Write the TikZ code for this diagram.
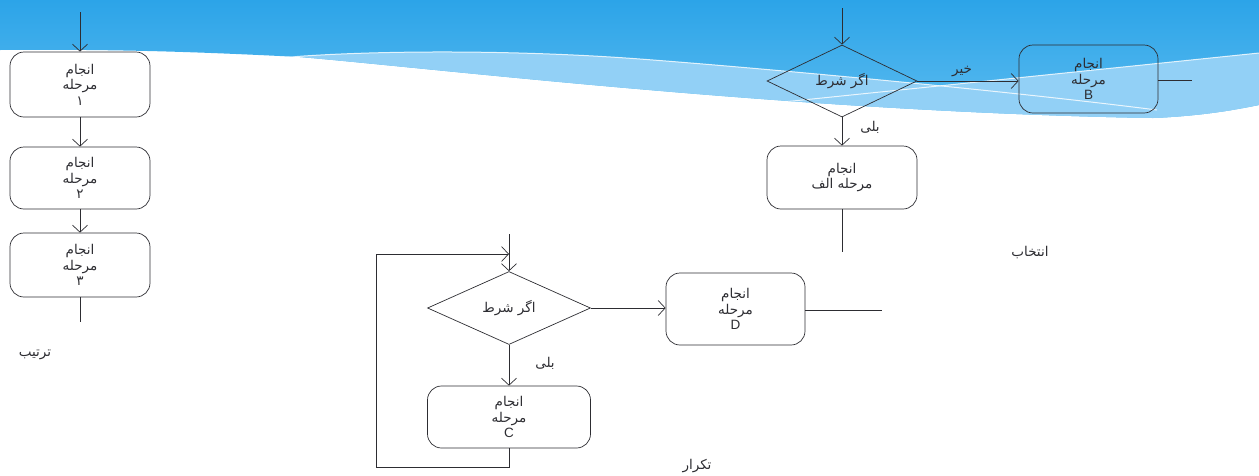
\documentclass[tikz,border=0pt]{standalone}
\usepackage{fontspec}
\setmainfont{Liberation Sans}
\newfontfamily\farsi[Script=Arabic]{DejaVu Sans}
\TeXXeTstate=1
\usetikzlibrary{arrows.meta,shapes.geometric}
\newcommand{\fa}[1]{{\farsi\beginR #1\endR}}
\definecolor{bgtop}{RGB}{44,164,232}
\definecolor{bgbot}{RGB}{92,188,240}
\definecolor{bglight}{RGB}{146,208,246}
\definecolor{ink}{RGB}{45,45,50}
\tikzstyle{edge}=[
	-{Straight Barb[length=7pt,width=15pt]},
	draw=ink,
	line width=0.7pt
]
\tikzstyle{line}=[
	-,
	draw=ink,
	line width=0.7pt
]
\tikzstyle{stepbox}=[
	rectangle,
	rounded corners=14pt,
	draw=ink,
	line width=0.7pt,
	align=center,
	inner sep=0pt,
	text=ink,
	font=\fontsize{13.5}{15.5}\selectfont
]
\tikzstyle{cond}=[
	diamond,
	draw=ink,
	line width=0.7pt,
	inner sep=0pt,
	text=ink,
	font=\fontsize{13.5}{15.5}\selectfont
]
\tikzstyle{lbl}=[
	inner sep=0pt,
	text=ink,
	font=\fontsize{13.5}{15.5}\selectfont
]

\begin{document}
\begin{tikzpicture}[x=1pt, y=-1pt]
\useasboundingbox (0,0) rectangle (1259,475);

% background wave
\begin{scope}
\clip (0,0) -- (1259,0) -- (1259,105) .. controls (1235,110) and (1200,116) .. (1153,118)
    .. controls (800,112) and (450,70) .. (300,57) .. controls (200,52) and (120,49) .. (0,50) -- cycle;
\shade[top color=bgtop, bottom color=bgbot] (0,0) rectangle (1259,125);
\fill[bglight] (290,57) .. controls (380,50) and (520,50) .. (640,59)
    .. controls (760,68) and (1000,90) .. (1157,110) -- (1259,110) -- (1259,140) -- (290,140) -- cycle;
\fill[bglight] (754,105) -- (1259,53) -- (1259,140) -- (754,140) -- cycle;
\draw[white, line width=1pt, opacity=0.8] (290,57) .. controls (380,50) and (520,50) .. (640,59)
    .. controls (760,68) and (1000,90) .. (1157,110);
\draw[white, line width=1pt, opacity=0.8] (754,105) -- (1259,53);
\end{scope}

% sequence
\coordinate (in1) at (80,12);
\coordinate (out1) at (80,322);
\foreach \n/\y/\h/\d in {1/84.5/65/۱, 2/178/62/۲, 3/265/64/۳}{
    \node[stepbox, minimum width=140pt, minimum height=\h pt] at (80,\y) (s\n)
        {\fa{انجام}\\\fa{مرحله}\\\fa{\d}};
}
\draw[edge] (in1) -- (s1);
\draw[edge] (s1) -- (s2);
\draw[edge] (s2) -- (s3);
\draw[line] (s3) -- (out1);
\node[lbl] at (35,355) (seq) {\fa{ترتیب}};

% selection
\coordinate (in2) at (842,8);
\node[cond, minimum width=150pt, minimum height=72pt] at (842,81) (d1) {\fa{اگر شرط}};
\node[stepbox, minimum width=139pt, minimum height=68pt] at (1088.5,79) (sB)
    {\fa{انجام}\\\fa{مرحله}\\B};
\node[stepbox, minimum width=150pt, minimum height=63pt] at (842,177.5) (sA)
    {\fa{انجام}\\\fa{مرحله الف}};
\coordinate (outB) at (1192,80);
\coordinate (outA) at (842,252);
\draw[edge] (in2) -- (d1.north);
\draw[edge] (d1.east) -- (d1.east -| sB.west);
\draw[line] (sB.east |- outB) -- (outB);
\draw[edge] (d1.south) -- (sA.north);
\draw[line] (sA.south) -- (outA);
\node[lbl] at (962,72) (no1) {\fa{خیر}};
\node[lbl] at (870,127) (yes1) {\fa{بلی}};
\node[lbl] at (1030,253) (sel) {\fa{انتخاب}};

% repetition
\coordinate (in3) at (509,234);
\coordinate (join) at (509,254);
\coordinate (loopL) at (376,467);
\node[cond, minimum width=163pt, minimum height=73pt] at (509,308) (d2) {\fa{اگر شرط}};
\node[stepbox, minimum width=139pt, minimum height=72pt] at (735.5,309) (sD)
    {\fa{انجام}\\\fa{مرحله}\\D};
\node[stepbox, minimum width=163pt, minimum height=62pt] at (509,417) (sC)
    {\fa{انجام}\\\fa{مرحله}\\C};
\coordinate (outD) at (882,310);
\draw[line] (in3) -- (join);
\draw[edge] (sC.south) |- (loopL) |- (join);
\draw[edge] (join) -- (d2.north);
\draw[edge] (d2.east) -- (d2.east -| sD.west);
\draw[line] (sD.east |- outD) -- (outD);
\draw[edge] (d2.south) -- (sC.north);
\node[lbl] at (545,363) (yes2) {\fa{بلی}};
\node[lbl] at (697,466) (rep) {\fa{تکرار}};
\end{tikzpicture}
\end{document}
